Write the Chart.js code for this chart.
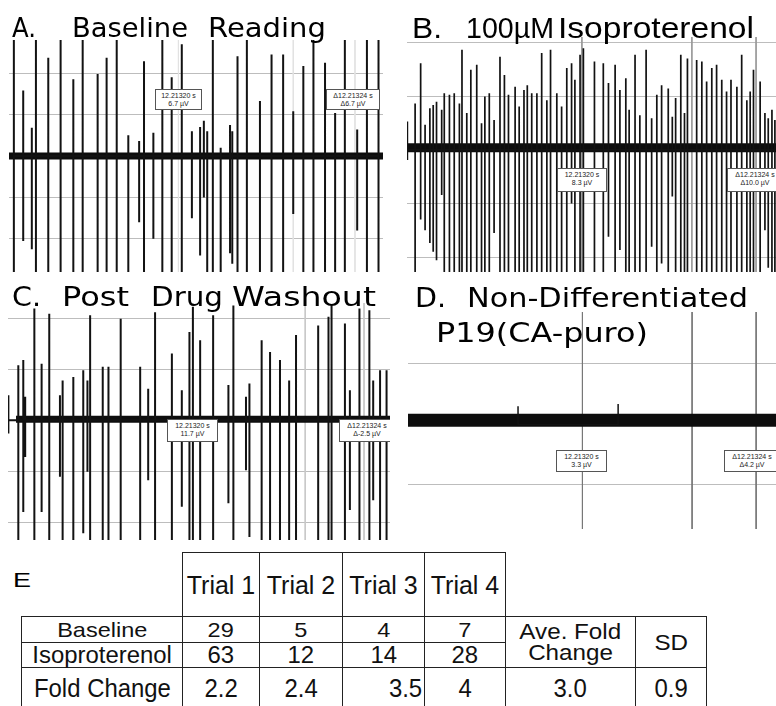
<!DOCTYPE html>
<html>
<head>
<meta charset="utf-8">
<script src="https://cdn.jsdelivr.net/npm/chart.js@4.4.1/dist/chart.umd.min.js"></script>
<style>
  html, body { margin: 0; padding: 0; background: #fff; }
  body { width: 776px; height: 706px; position: relative; overflow: hidden; }
  .panel { position: absolute; overflow: hidden; }
  .panel canvas { position: absolute; }
  .box { position: absolute; border: 1px solid #555; background: #fff; box-sizing: border-box;
         font: 7px "Liberation Sans", Arial, sans-serif; line-height: 8px; text-align: center;
         color: #222; white-space: nowrap; padding-top: 2px; }
  .lbl { position: absolute; left: 0; top: 0; white-space: pre; transform-origin: 0 0; color: #000; }
  .lbl .m { display: inline-block; width: 0; height: 0; }
  table { position: absolute; left: 21px; top: 552px; border-collapse: collapse; table-layout: fixed;
          font-family: "Liberation Sans", Arial, sans-serif; color: #111; }
  td { padding: 0; text-align: center; vertical-align: middle; white-space: nowrap; }
  td.bd { border: 1.5px solid #222; }
  td span { display: inline-block; }
</style>
</head>
<body>

<div class="panel" id="pA" style="left:0;top:0;width:390px;height:276px">
  <canvas id="chartA" width="374" height="232" style="left:9px;top:40px"></canvas>
</div>
<div class="panel" id="pB" style="left:390px;top:0;width:386px;height:276px">
  <canvas id="chartB" width="369" height="235" style="left:17px;top:37px"></canvas>
</div>
<div class="panel" id="pC" style="left:0;top:276px;width:390px;height:270px">
  <canvas id="chartC" width="382" height="237" style="left:8px;top:27px"></canvas>
</div>
<div class="panel" id="pD" style="left:390px;top:276px;width:386px;height:270px">
  <canvas id="chartD" width="368" height="217" style="left:18px;top:36px"></canvas>
</div>

<table id="tbl">
  <colgroup>
    <col style="width:161px"><col style="width:77px"><col style="width:83px"><col style="width:82px">
    <col style="width:81px"><col style="width:130px"><col style="width:71px">
  </colgroup>
  <tbody id="tbody"></tbody>
</table>

<script>
// ---- Panel A : baseline reading (time in ms, amplitude in grid units)
const aTimes = [13, 38, 61, 72, 105, 138, 172, 197, 237, 261, 288, 319, 348, 361, 386, 410, 435, 462, 489, 511,
                521, 530, 545, 566, 591, 597, 611, 636, 671, 702, 733, 760, 787, 814, 845, 872, 898, 931, 957, 988];
const aUp = [2.9, 1.58, 0.68, 3, 2.37, 3, 1.85, 2.9, 1.98, 2.37, 3, 0.5, 0.36, 2.29, 0.56, 3, 1.9, 2.7, 0.6, 0.7,
             0.85, 0.6, 3, 0.2, 0.75, 0.6, 2.41, 3, 1.33, 2.45, 2.45, 1.08, 2.17, 3, 2.25, 1.04, 3, 0.64, 3, 3];
const aDown = [-3, -2.05, -2.25, -3, -3, -3, -3, -3, -3, -3, -3, -3, -1.6, -3, -2.0, -3, -3, -3, -1.5, -2.4,
               -1.0, -2.8, -3, -3, -2.35, -2.6, -3, -3, -3, -3, -3, -1.4, -3, -3, -3, -3, -3, -1.8, -3, -3];
const aCursors = [453, 760, 925];

// ---- Panel B : 100uM isoproterenol
const bTimes = [1, 22, 37, 49, 62, 71, 80, 94, 101, 115, 128, 142, 149, 162, 173, 189, 202, 211, 223, 236,
                252, 264, 275, 293, 304, 317, 326, 338, 352, 365, 379, 389, 406, 419, 433, 446, 455, 469, 478,
                508, 532, 546, 564, 577, 593, 602, 618, 631, 648, 663, 677, 690, 708, 719, 728, 742, 752, 760,
                785, 799, 812, 826, 839, 853, 866, 878, 894, 907, 921, 930, 939, 957, 970, 979, 989, 997];
const bUp = [0.53, 0.87, 1.62, 0.47, 0.78, 0.84, 0.9, 0.75, 1.06, 1.03, 1.06, 0.87, 1.87, 0.69, 1.5, 1.59, 0.5, 1.0, 1.06, 0.56,
             1.74, 1.4, 1.03, 1.18, 0.81, 1.12, 1.21, 1.06, 1.06, 1.81, 0.93, 1.87, 1.06, 0.81, 1.53, 1.62, 1.31, 1.78, 1.9,
             1.65, 1.62, 1.25, 1.59, 1.12, 1.34, 0.75, 1.78, 0.65, 1.87, 0.59, 1.03, 1.21, 1.15, 0.62, 0.97, 1.78, 0.69, 1.71,
             1.68, 1.65, 1.28, 1.53, 1.59, 1.31, 1.09, 1.31, 1.18, 1.78, 0.93, 1.09, 1.5, 1.28, 0.69, 0.59, 0.75, 0.56];
const bDown = [-0.19, -2.5, -1.3, -1.5, -1.74, -1.9, -2.06, -0.84, -2.5, -2.5, -2.5, -2.5, -2.5, -2.5, -2.5, -2.5, -2.5, -2.5, -2.5, -1.55,
               -2.5, -2.5, -2.5, -2.5, -2.5, -2.5, -2.5, -2.5, -2.5, -2.5, -2.5, -2.5, -2.5, -2.5, -2.5, -1.0, -2.5, -2.5, -2.5,
               -2.5, -2.5, -1.62, -2.5, -1.87, -2.5, -2.5, -2.5, -2.5, -2.5, -1.81, -2.5, -2.12, -2.5, -0.87, -2.5, -2.5, -2.5, -2.5,
               -2.5, -2.5, -2.5, -2.5, -2.5, -2.5, -2.5, -2.5, -2.5, -2.5, -2.5, -2.5, -2.5, -2.5, -1.5, -2.2, -2.5, -2.5];
const bCursors = [474, 772, 946];

// ---- Panel C : post drug washout
const cTimes = [1, 27, 40, 45, 69, 88, 108, 136, 143, 171, 197, 208, 215, 248, 263, 295, 346, 367, 385, 429,
                455, 475, 484, 503, 537, 577, 590, 623, 632, 664, 686, 712, 736, 754, 812, 839, 847, 882, 895, 920,
                946, 956, 974, 991];
const cUp = [0.49, 1.08, 1.18, 0.46, 2.19, 1.11, 2.09, 0.49, 0.78, 0.85, 0.98, 0.78, 2.06, 1.05, 1.05, 1.99, 1.05, 0.62, 2.12, 1.31,
             0.59, 1.73, 2.22, 1.57, 2.06, 0.69, 2.25, 0.46, 0.72, 1.57, 1.34, 1.18, 0.78, 1.67, 1.86, 2.03, 2.25, 1.9, 0.59, 2.19,
             2.16, 0.78, 0.98, 0.98];
const cDown = [-0.26, -2.5, -1.8, -0.72, -2.5, -1.8, -2.5, -1.11, -2.5, -2.5, -2.22, -1.01, -2.5, -2.5, -2.5, -2.5, -2.5, -1.18, -2.5, -2.5,
               -1.7, -2.5, -2.5, -2.5, -2.5, -1.63, -2.5, -0.98, -2.29, -2.5, -2.5, -2.5, -2.5, -2.5, -2.5, -2.5, -2.5, -2.5, -1.76, -2.5,
               -2.5, -1.57, -2.5, -2.5];
const cCursors = [484, 778, 932];

// ---- Panel D : non-differentiated P19 (only noise, two tiny blips)
const dTimes = [299, 571];
const dUp = [0.3, 0.34];
const dDown = [0, 0];
const dCursors = [474, 772, 946];

// ---- cursor read-outs
const readA = ['12.21320 s', '6.7 µV', 'Δ12.21324 s', 'Δ6.7 µV'];
const readB = ['12.21320 s', '8.3 µV', 'Δ12.21324 s', 'Δ10.0 µV'];
const readC = ['12.21320 s', '11.7 µV', 'Δ12.21324 s', 'Δ-2.5 µV'];
const readD = ['12.21320 s', '3.3 µV', 'Δ12.21324 s', 'Δ4.2 µV'];

// ---- table E
const trials = ['Trial 1', 'Trial 2', 'Trial 3', 'Trial 4'];
const baselineCounts = [29, 5, 4, 7];
const isoCounts = [63, 12, 14, 28];
const foldChange = [2.2, 2.4, 3.5, 4];
const aveFold = 3.0;
const sdFold = 0.9;

// one spike = up to the peak, down to the trough, back to baseline
function spikeTrace(times, ups, downs) {
  const pts = [];
  times.forEach((t, i) => {
    pts.push({ x: t, y: 0 }, { x: t, y: ups[i] }, { x: t, y: downs[i] }, { x: t, y: 0 });
  });
  return pts;
}

function makeTrace(id, times, ups, downs, o) {
  const datasets = [
    { data: spikeTrace(times, ups, downs), borderColor: '#121212', borderWidth: o.spikeWidth },
    { data: [{ x: o.bandStart, y: o.level }, { x: 1000, y: o.level }], borderColor: '#0d0d0d', borderWidth: o.bandWidth },
  ];
  o.cursors.forEach(t => {
    datasets.push({ data: [{ x: t, y: o.max + 1 }, { x: t, y: o.min - 1 }], borderColor: o.cursorColor, borderWidth: 1 });
  });
  datasets.forEach(d => {
    d.pointRadius = 0; d.tension = 0; d.clip = 0; d.borderJoinStyle = 'bevel'; d.fill = false;
  });
  return new Chart(document.getElementById(id), {
    type: 'line',
    data: { datasets },
    options: {
      responsive: false,
      animation: false,
      devicePixelRatio: 1,
      events: [],
      layout: { padding: 0 },
      plugins: { legend: { display: false }, tooltip: { enabled: false } },
      scales: {
        x: { type: 'linear', min: 0, max: 1000, display: false },
        y: {
          type: 'linear', min: o.min, max: o.max,
          ticks: { stepSize: 1, includeBounds: false, display: false },
          grid: { color: '#bdbdbd', lineWidth: 1, drawTicks: false },
          border: { display: false },
          afterFit: s => { s.width = 0; },
        },
      },
    },
  });
}

makeTrace('chartA', aTimes, aUp, aDown, { min: -2.8, max: 2.8, level: 0, bandWidth: 7, spikeWidth: 2, bandStart: 0, cursors: aCursors, cursorColor: '#e2e2e2' });
makeTrace('chartB', bTimes, bUp, bDown, { min: -2.28, max: 2.11, level: 0.04, bandWidth: 9, spikeWidth: 1.7, bandStart: 0, cursors: bCursors, cursorColor: '#9a9a9a' });
makeTrace('chartC', cTimes, cUp, cDown, { min: -2.35, max: 2.3, level: 0.02, bandWidth: 7, spikeWidth: 2, bandStart: 21, cursors: cCursors, cursorColor: '#c8c8c8' });
makeTrace('chartD', dTimes, dUp, dDown, { min: -1.73, max: 1.86, level: 0.07, bandWidth: 13, spikeWidth: 1.5, bandStart: 0, cursors: dCursors, cursorColor: '#777' });

// read-out boxes (panel-relative)
function addBox(panel, lines, left, top, w, h) {
  const b = document.createElement('div');
  b.className = 'box';
  Object.assign(b.style, { left: left + 'px', top: top + 'px', width: w + 'px', height: h + 'px' });
  lines.forEach(t => { const l = document.createElement('div'); l.textContent = t; b.appendChild(l); });
  document.getElementById(panel).appendChild(b);
}
addBox('pA', readA.slice(0, 2), 155, 89, 47, 21);
addBox('pA', readA.slice(2), 326, 89, 54, 21);
addBox('pB', readB.slice(0, 2), 167, 168, 50, 24);
addBox('pB', readB.slice(2), 337, 168, 56, 24);
addBox('pC', readC.slice(0, 2), 167, 143, 51, 23);
addBox('pC', readC.slice(2), 339, 143, 56, 23);
addBox('pD', readD.slice(0, 2), 166, 174, 51, 22);
addBox('pD', readD.slice(2), 334, 174, 56, 22);

// panel titles: each word placed on its baseline and stretched to its width
const humanist = '27px "DejaVu Sans", sans-serif';
const grotesk = '29px "Liberation Sans", Arial, sans-serif';
function word(text, font, left, baseline, width) {
  const d = document.createElement('div');
  d.className = 'lbl';
  d.style.font = font;
  const s = document.createElement('span');
  s.textContent = text;
  const m = document.createElement('span');
  m.className = 'm';
  d.append(s, m);
  document.body.appendChild(d);
  const base = m.offsetTop;
  const w = s.getBoundingClientRect().width;
  d.style.left = left + 'px';
  d.style.top = (baseline - base) + 'px';
  d.style.transform = 'scaleX(' + (width / w) + ')';
}
word('A.', humanist, 12, 37, 24);
word('Baseline', humanist, 72, 37, 116);
word('Reading', humanist, 208, 37, 118);
word('B.', grotesk, 412, 38, 30);
word('100µM', grotesk, 466, 38, 88);
word('Isoproterenol', grotesk, 558, 38, 196);
word('C.', humanist, 12, 306, 29);
word('Post', humanist, 62, 306, 67);
word('Drug', humanist, 151, 306, 72);
word('Washout', humanist, 232, 306, 144);
word('D.', humanist, 415, 307, 31);
word('Non-Differentiated', humanist, 467, 307, 281);
word('P19(CA-puro)', humanist, 436, 342, 212);
word('E', '21px "Liberation Sans", Arial, sans-serif', 13, 587, 18);

// table E : each row has its own type size and horizontal stretch, as in the scanned figure
const tbody = document.getElementById('tbody');
function cell(tr, text, st, opts = {}) {
  const td = document.createElement('td');
  if (opts.border !== false) td.className = 'bd';
  if (opts.rowSpan) td.rowSpan = opts.rowSpan;
  if (opts.colSpan) td.colSpan = opts.colSpan;
  if (opts.align) td.style.textAlign = opts.align;
  if (opts.pad) td.style.paddingRight = opts.pad;
  td.style.fontSize = st.size + 'px';
  td.style.lineHeight = st.lh + 'px';
  String(text).split('\n').forEach((t, i) => {
    if (i) td.appendChild(document.createElement('br'));
    const s = document.createElement('span');
    s.textContent = t;
    s.style.transform = 'scaleX(' + st.sx + ')';
    if (opts.align === 'right') s.style.transformOrigin = '100% 50%';
    td.appendChild(s);
  });
  tr.appendChild(td);
  return td;
}
function row(h) {
  const tr = document.createElement('tr');
  tr.style.height = h + 'px';
  tbody.appendChild(tr);
  return tr;
}
const stHead = { size: 25, lh: 26, sx: 1.0 };
const stBase = { size: 21, lh: 22, sx: 1.12 };
const stIso = { size: 23, lh: 23, sx: 1.04 };
const stFold = { size: 26, lh: 27, sx: 0.92 };
const stAve = { size: 22, lh: 21, sx: 1.1 };

let tr = row(64);
cell(tr, '', stHead, { border: false });
trials.forEach(t => cell(tr, t, stHead));
cell(tr, '', stHead, { border: false, colSpan: 2 });

tr = row(26);
cell(tr, 'Baseline', stBase);
baselineCounts.forEach(v => cell(tr, v, stBase));
cell(tr, 'Ave. Fold\nChange', stAve, { rowSpan: 2 });
cell(tr, 'SD', stAve, { rowSpan: 2 });

tr = row(25);
cell(tr, 'Isoproterenol', stIso);
isoCounts.forEach(v => cell(tr, v, stIso));

tr = row(42);
cell(tr, 'Fold Change', stFold);
foldChange.forEach((v, i) => cell(tr, v, stFold, i === 2 ? { align: 'right', pad: '2px' } : {}));
cell(tr, aveFold.toFixed(1), stFold);
cell(tr, sdFold.toFixed(1), stFold);
</script>
</body>
</html>
